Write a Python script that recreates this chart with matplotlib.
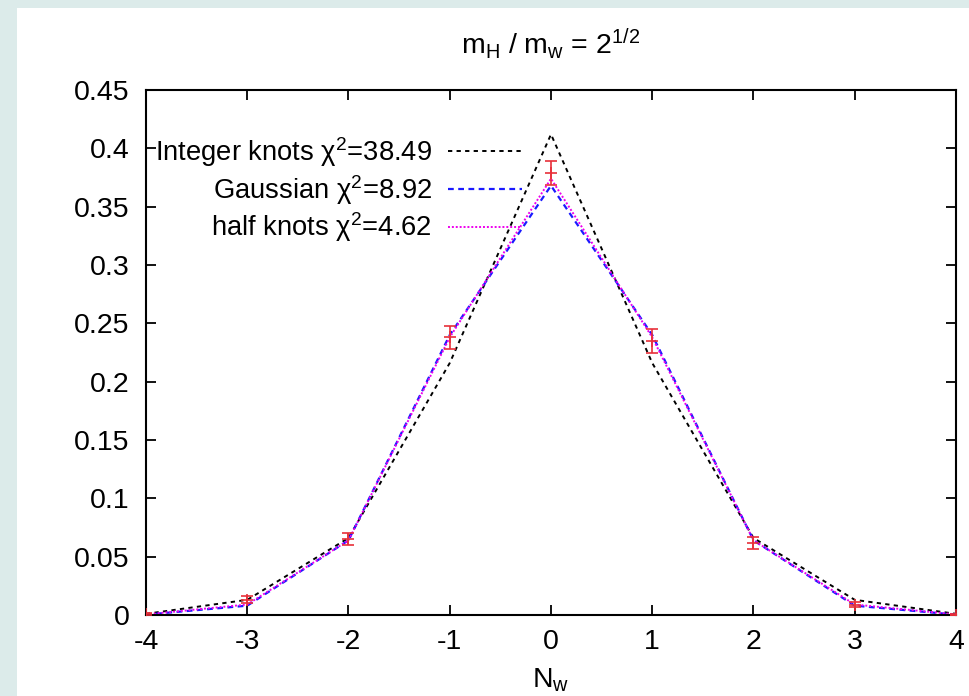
import matplotlib
matplotlib.use('Agg')
import matplotlib.pyplot as plt
from matplotlib.patches import Rectangle
import numpy as np

plt.rcParams['font.family'] = ['Liberation Sans', 'DejaVu Sans']
plt.rcParams['mathtext.fontset'] = 'custom'
plt.rcParams['mathtext.rm'] = 'Liberation Sans'
plt.rcParams['mathtext.it'] = 'Liberation Sans:italic'
plt.rcParams['mathtext.bf'] = 'Liberation Sans:bold'

# data
nw = [-4, -3, -2, -1, 0, 1, 2, 3, 4]
integer_knots = [0.001, 0.013, 0.066, 0.216, 0.412, 0.216, 0.066, 0.013, 0.001]
gaussian = [0.0003, 0.008, 0.064, 0.240, 0.368, 0.240, 0.064, 0.008, 0.0003]
half_knots = [0.0005, 0.009, 0.064, 0.238, 0.374, 0.238, 0.064, 0.009, 0.0005]
measured = [0.0005, 0.013, 0.065, 0.238, 0.379, 0.235, 0.062, 0.009, 0.0003]
measured_err = [0.001, 0.003, 0.005, 0.010, 0.010, 0.010, 0.005, 0.002, 0.0005]
labels = [r'Integer knots χ$^{2}$=38.49', r'Gaussian χ$^{2}$=8.92', r'half knots χ$^{2}$=4.62']
yticks = [0, 0.05, 0.1, 0.15, 0.2, 0.25, 0.3, 0.35, 0.4, 0.45]
ytick_labels = ['0', '0.05', '0.1', '0.15', '0.2', '0.25', '0.3', '0.35', '0.4', '0.45']

fs = 20.5
fig = plt.figure(figsize=(9.7, 6.96), dpi=100, facecolor='#dcebea')
fig.patches.append(Rectangle((17 / 970, 0), 1, (696 - 8) / 696, transform=fig.transFigure,
                             facecolor='white', edgecolor='none', zorder=-10))
ax = fig.add_axes([146 / 970, 81 / 696, 810 / 970, 525 / 696])
ax.set_facecolor('none')

ax.plot(nw, integer_knots, color='black', lw=1.4, dashes=(2.2, 2.2), label=labels[0])
ax.plot(nw, gaussian, color='#1a1aff', lw=1.6, dashes=(2.6, 2.0), label=labels[1])
ax.plot(nw, half_knots, color='#ee00ee', lw=1.4, dashes=(1.0, 1.0), label=labels[2])
ax.errorbar(nw, measured, yerr=measured_err, fmt='+', color='#e8303a', ms=8, mew=1.2,
            elinewidth=1.2, capsize=4, capthick=1.2, zorder=5)

ax.set_xlim(-4, 4)
ax.set_ylim(0, 0.45)
ax.set_xticks(nw)
ax.set_xticklabels([str(v) for v in nw])
ax.set_yticks(yticks)
ax.set_yticklabels(ytick_labels)
ax.tick_params(direction='in', length=7, width=1.3, labelsize=fs, top=True, right=True)
ax.tick_params(axis='y', pad=12)
ax.tick_params(axis='x', pad=10)
for s in ax.spines.values():
    s.set_linewidth(1.5)

ax.set_title(r'm$_\mathrm{H}$ / m$_\mathrm{w}$ = 2$^{1/2}$', fontsize=fs, pad=26)
ax.set_xlabel(r'N$_\mathrm{w}$', fontsize=fs, labelpad=8)

ax.legend(loc='upper right', bbox_to_anchor=(0.464, 0.914), frameon=False, markerfirst=False,
          fontsize=19.7, handlelength=2.7, handletextpad=0.58, labelspacing=0.14,
          borderaxespad=0.0, borderpad=0.0)

fig.savefig('out.png', dpi=100, facecolor=fig.get_facecolor())
